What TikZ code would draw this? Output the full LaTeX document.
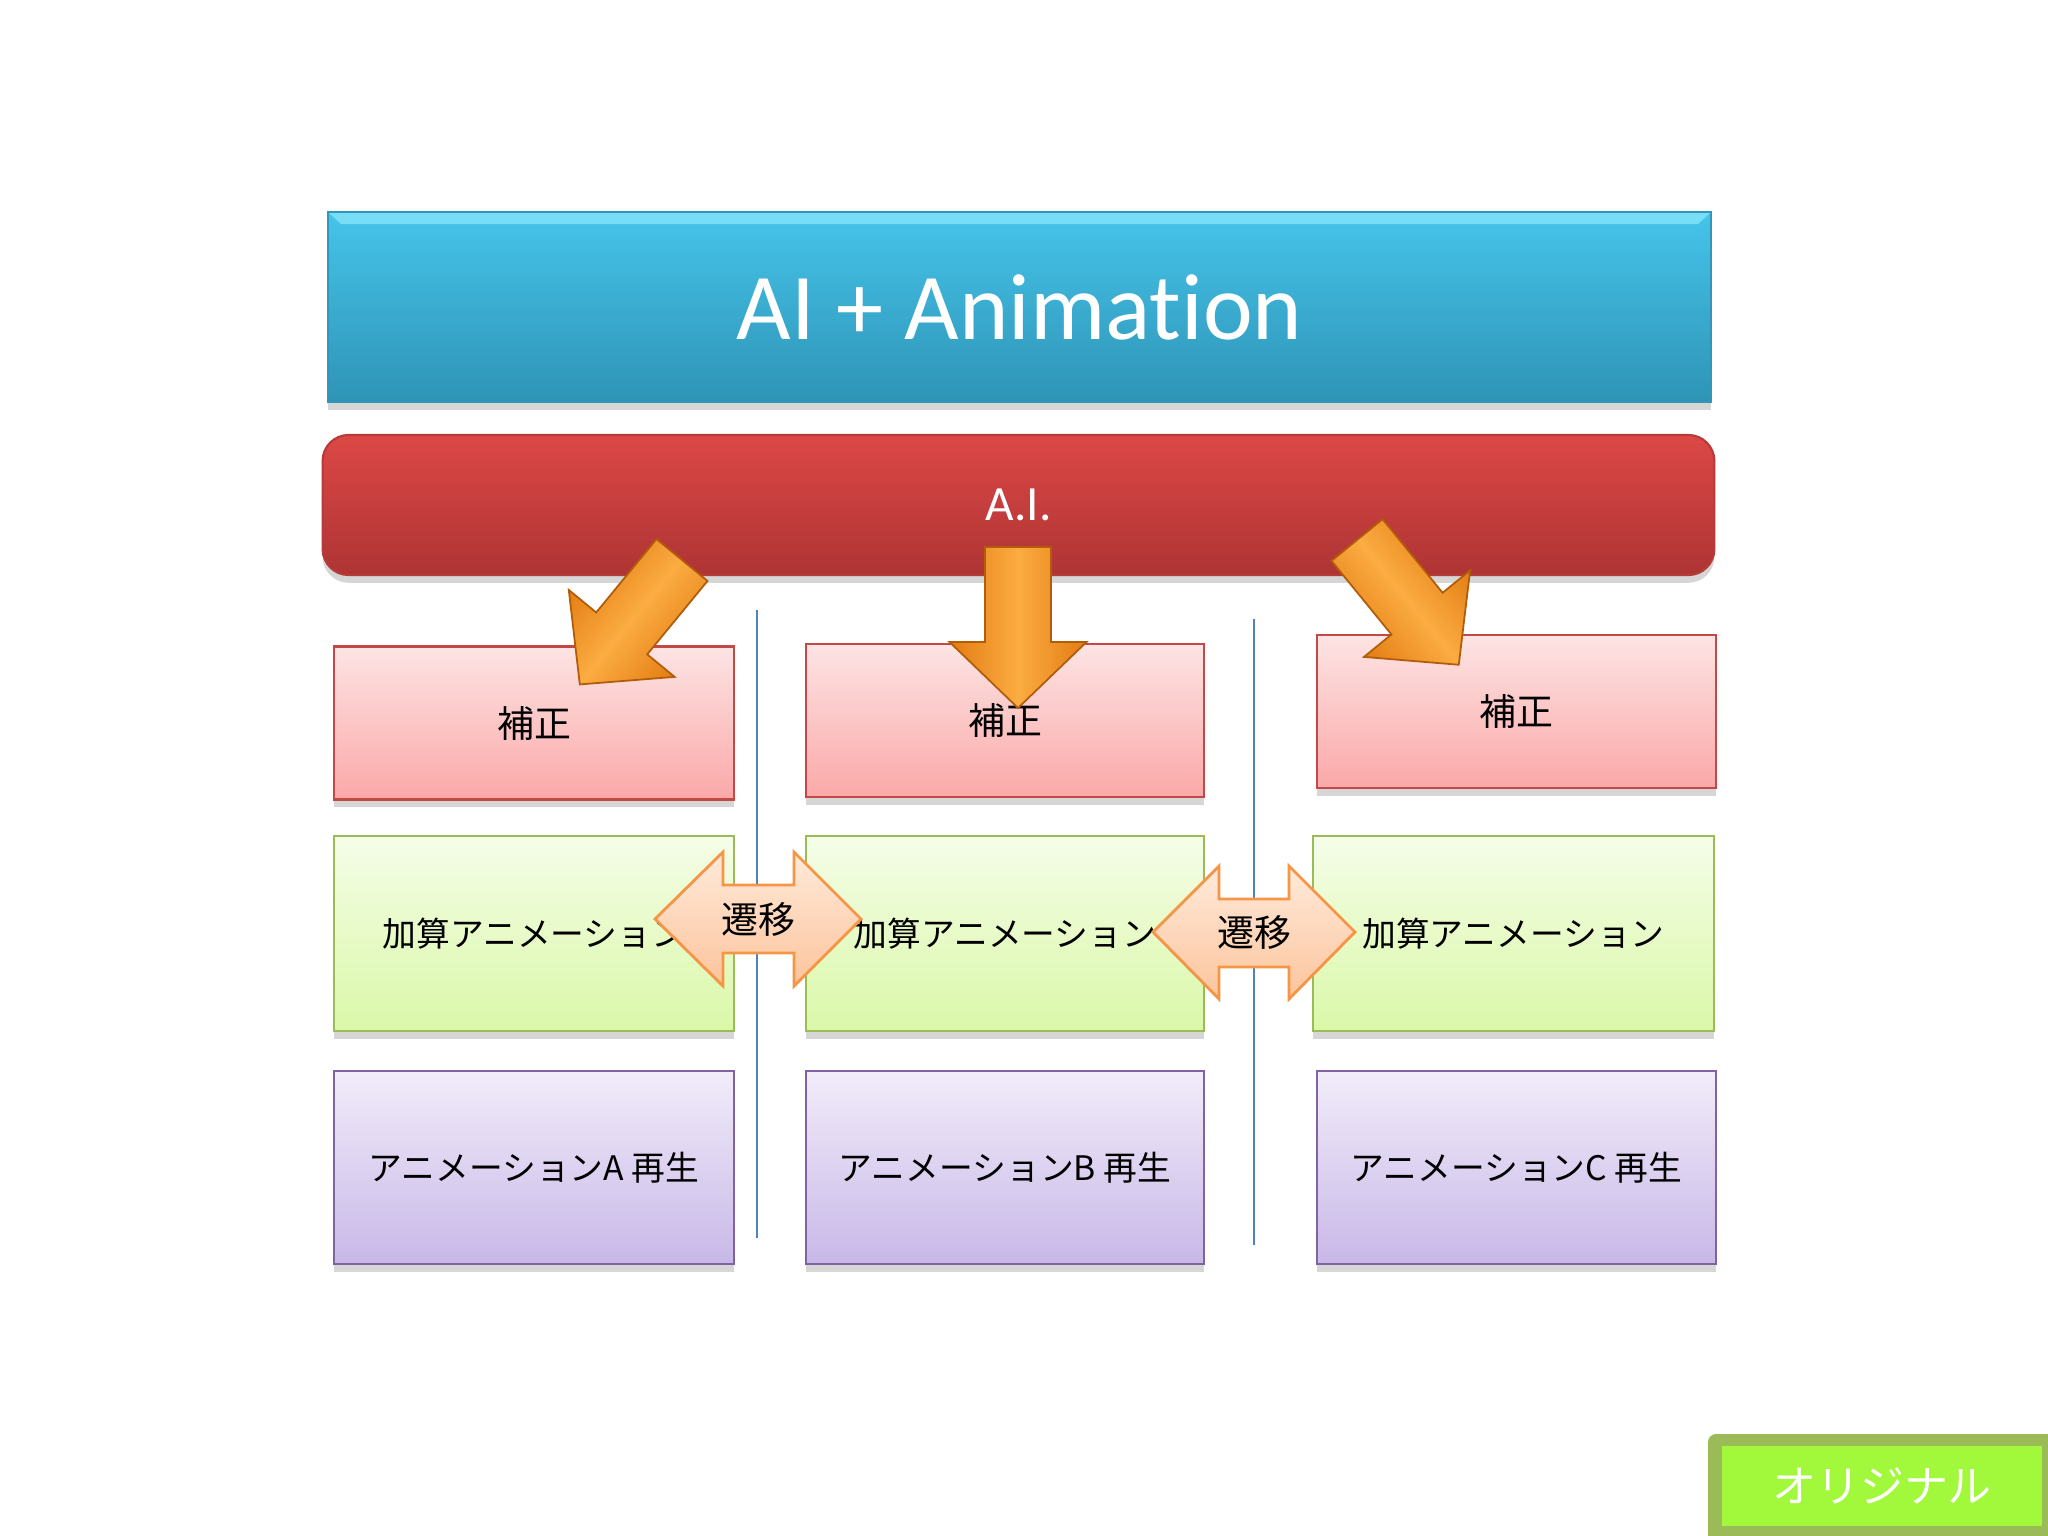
\documentclass[tikz,border=0pt]{standalone}
\usepackage{fontspec}
\setmainfont{Carlito}[Ligatures={NoCommon}]
\newfontfamily\jp{Noto Sans CJK JP}
\usetikzlibrary{shadows}
\definecolor{bluetop}{RGB}{70,196,234}
\definecolor{bluebot}{RGB}{46,148,182}
\definecolor{blueedge}{RGB}{48,150,186}
\definecolor{bluelite}{RGB}{120,222,246}
\definecolor{redtop}{RGB}{220,72,70}
\definecolor{redbot}{RGB}{174,52,52}
\definecolor{rededge}{RGB}{182,58,56}
\definecolor{pinktop}{RGB}{253,228,228}
\definecolor{pinkbot}{RGB}{251,168,168}
\definecolor{pinkedge}{RGB}{196,72,70}
\definecolor{greentop}{RGB}{245,253,232}
\definecolor{greenbot}{RGB}{218,248,168}
\definecolor{greenedge}{RGB}{155,187,89}
\definecolor{purptop}{RGB}{242,236,249}
\definecolor{purpbot}{RGB}{200,184,232}
\definecolor{purpedge}{RGB}{128,100,162}
\definecolor{ordark}{RGB}{226,124,18}
\definecolor{orlite}{RGB}{251,172,66}
\definecolor{oredge}{RGB}{176,92,10}
\definecolor{peachtop}{RGB}{255,234,218}
\definecolor{peachbot}{RGB}{252,196,156}
\definecolor{peachedge}{RGB}{245,150,70}
\definecolor{sepline}{RGB}{79,129,189}
\definecolor{btnouter}{RGB}{155,187,89}
\definecolor{btninner}{RGB}{162,248,58}
\newcommand\orangearrow[4]{%
  \begin{scope}[shift={(#1,#2)},rotate=#3]
    \path[orarrow, shading angle=#4] (-33,0) -- (33,0) -- (33,95) -- (68.5,95)
      -- (0,161) -- (-68.5,95) -- (-33,95) -- cycle;
  \end{scope}}
\begin{document}
\begin{tikzpicture}[x=0.01cm,y=-0.01cm,
  shadowed/.style={drop shadow={shadow xshift=0pt,shadow yshift=-2.2pt,opacity=0.32}},
  boxbase/.style={shadowed, draw, line width=0.7pt, inner sep=0pt,
    minimum height=1.53cm, font=\jp\fontsize{9.6}{11}\selectfont},
  pinkbox/.style={boxbase, draw=pinkedge, top color=pinktop, bottom color=pinkbot,
    font=\jp\fontsize{10.5}{12}\selectfont},
  greenbox/.style={boxbase, draw=greenedge, top color=greentop, bottom color=greenbot,
    minimum height=1.95cm},
  purpbox/.style={boxbase, draw=purpedge, top color=purptop, bottom color=purpbot,
    minimum height=1.93cm},
  orarrow/.style={draw=oredge, line width=0.5pt, left color=ordark, right color=ordark,
    middle color=orlite},
  dblarrow/.style={draw=peachedge, line width=0.8pt, top color=peachtop, bottom color=peachbot},
  sep/.style={draw=sepline, line width=0.6pt}
]
\useasboundingbox[fill=white] (0,0) rectangle (2048,1536);

% title bar
\node[shadowed, draw=blueedge, line width=0.6pt, top color=bluetop, bottom color=bluebot,
  minimum width=13.83cm, minimum height=1.9cm, inner sep=0pt,
  font=\fontsize{26.8}{32}\selectfont, text=white] (title) at (1019.5,307) {AI + Animation};
\fill[bluelite] (329,213) -- (1710,213) -- (1698,224) -- (341,224) -- cycle;

% A.I. bar
\node[shadowed, draw=rededge, line width=0.6pt, top color=redtop, bottom color=redbot,
  rounded corners=0.26cm, minimum width=13.91cm, minimum height=1.4cm, inner sep=0pt,
  font=\fontsize{14}{17}\selectfont, text=white] (ai) at (1018.5,505) {A.I.};

% separators
\coordinate (l1t) at (757,610); \coordinate (l1b) at (757,1238);
\coordinate (l2t) at (1254,619); \coordinate (l2b) at (1254,1245);
\draw[sep] (l1t) -- (l1b);
\draw[sep] (l2t) -- (l2b);

% row 1
\node[pinkbox, minimum width=4cm]    (p1) at (534,723)    {補正};
\node[pinkbox, minimum width=3.98cm] (p2) at (1005,720.5) {補正};
\node[pinkbox, minimum width=3.99cm] (p3) at (1516.5,711.5) {補正};

% row 2
\node[greenbox, minimum width=4cm]    (g1) at (534,933.5)    {加算アニメーション};
\node[greenbox, minimum width=3.98cm] (g2) at (1005,933.5)   {加算アニメーション};
\node[greenbox, minimum width=4.01cm] (g3) at (1513.5,933.5) {加算アニメーション};

% row 3
\node[purpbox, minimum width=4cm]    (u1) at (534,1167.5)    {アニメーションA 再生};
\node[purpbox, minimum width=3.98cm] (u2) at (1005,1167.5)   {アニメーションB 再生};
\node[purpbox, minimum width=3.99cm] (u3) at (1516.5,1167.5) {アニメーションC 再生};

% orange arrows
\orangearrow{682}{560}{-39.4}{50.6}
\orangearrow{1018}{547}{0}{90}
\orangearrow{1357}{540}{39.2}{129.2}

% transition double arrows
\path[dblarrow] (655,919) -- (723,852) -- (723,885) -- (794,885) -- (794,852) -- (861,919)
  -- (794,986) -- (794,953) -- (723,953) -- (723,986) -- cycle;
\node[font=\jp\fontsize{10.5}{12}\selectfont] (t1) at (758,919) {遷移};
\path[dblarrow] (1153,932) -- (1219,866) -- (1219,899) -- (1289,899) -- (1289,866) -- (1355,932)
  -- (1289,999) -- (1289,967) -- (1219,967) -- (1219,999) -- cycle;
\node[font=\jp\fontsize{10.5}{12}\selectfont] (t2) at (1254,932) {遷移};

% button
\fill[btnouter, rounded corners=0.08cm] (1708,1434) rectangle (2080,1570);
\node[fill=btninner, minimum width=3.2cm, minimum height=0.8cm, inner sep=0pt,
  font=\jp\fontsize{12.5}{15}\selectfont, text=white] (orig) at (1882,1486) {オリジナル};
\end{tikzpicture}
\end{document}
